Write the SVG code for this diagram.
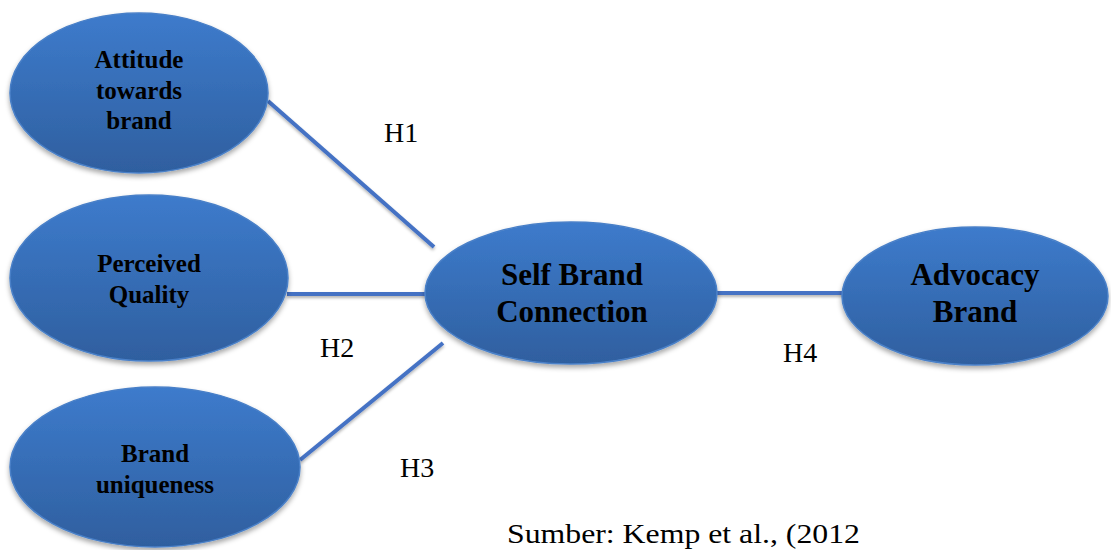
<svg xmlns="http://www.w3.org/2000/svg" width="1111" height="550" viewBox="0 0 1111 550">
  <defs>
    <linearGradient id="fillGrad" x1="0" y1="0" x2="0" y2="1">
      <stop offset="0" stop-color="#3d7bcc"/>
      <stop offset="1" stop-color="#2f5f9f"/>
    </linearGradient>
    <filter id="shadow" x="-10%" y="-10%" width="120%" height="130%">
      <feDropShadow dx="0" dy="3" stdDeviation="2.5" flood-color="#000" flood-opacity="0.35"/>
    </filter>
    <filter id="lshadow" filterUnits="userSpaceOnUse" x="0" y="0" width="1111" height="550">
      <feDropShadow dx="0" dy="2" stdDeviation="1.5" flood-color="#000" flood-opacity="0.3"/>
    </filter>
  </defs>
  <style>
    .node ellipse { fill: url(#fillGrad); stroke: #4a80c8; stroke-width: 1.5; filter: url(#shadow); }
    .lbl { font-family: "Liberation Serif", "Times New Roman", serif; font-weight: bold; fill: #000; text-anchor: middle; }
    .small { font-size: 25px; }
    .big { font-size: 31px; }
    .conn line { stroke: #4472c4; stroke-width: 4; }
    .h { font-family: "Liberation Serif", "Times New Roman", serif; font-size: 28px; fill: #000; }
  </style>
  <rect width="1111" height="550" fill="#fff"/>

  <g id="connectors" class="conn" filter="url(#lshadow)">
    <line x1="268" y1="101" x2="434" y2="247"/>
    <line x1="287" y1="294" x2="426" y2="294"/>
    <line x1="300" y1="460" x2="443" y2="343"/>
    <line x1="717" y1="293" x2="844" y2="293"/>
  </g>

  <g id="node-attitude" class="node">
    <ellipse cx="139" cy="93" rx="129" ry="80"/>
    <text class="lbl small" x="139" y="68">Attitude</text>
    <text class="lbl small" x="139" y="99">towards</text>
    <text class="lbl small" x="139" y="129">brand</text>
  </g>

  <g id="node-perceived" class="node">
    <ellipse cx="149" cy="278" rx="139" ry="83"/>
    <text class="lbl small" x="149" y="272">Perceived</text>
    <text class="lbl small" x="149" y="303">Quality</text>
  </g>

  <g id="node-uniqueness" class="node">
    <ellipse cx="155" cy="467" rx="145" ry="80"/>
    <text class="lbl small" x="155" y="462">Brand</text>
    <text class="lbl small" x="155" y="493">uniqueness</text>
  </g>

  <g id="node-selfbrand" class="node">
    <ellipse cx="571" cy="293" rx="146" ry="71"/>
    <text class="lbl big" x="572" y="285">Self Brand</text>
    <text class="lbl big" x="572" y="322">Connection</text>
  </g>

  <g id="node-advocacy" class="node">
    <ellipse cx="975" cy="296" rx="133" ry="69"/>
    <text class="lbl big" x="975" y="285">Advocacy</text>
    <text class="lbl big" x="975" y="322">Brand</text>
  </g>

  <g id="labels">
    <text class="h" x="384" y="142">H1</text>
    <text class="h" x="320" y="357">H2</text>
    <text class="h" x="400" y="477">H3</text>
    <text class="h" x="783" y="362">H4</text>
    <text class="h" x="507" y="543" style="font-size:27px" textLength="353" lengthAdjust="spacingAndGlyphs">Sumber: Kemp et al., (2012</text>
  </g>
</svg>
